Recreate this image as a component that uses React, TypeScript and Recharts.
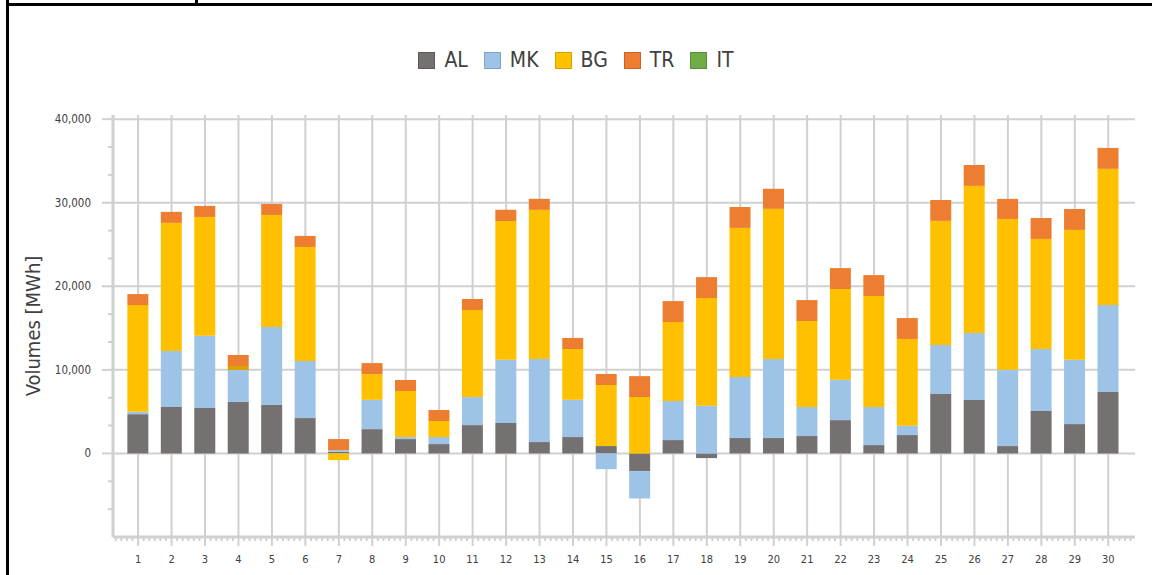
import { Bar, BarChart, CartesianGrid, Cell, Legend, XAxis, YAxis } from "recharts";

const days = [1, 2, 3, 4, 5, 6, 7, 8, 9, 10, 11, 12, 13, 14, 15, 16, 17, 18, 19, 20, 21, 22, 23, 24, 25, 26, 27, 28, 29, 30];

const AL = [4700, 5550, 5430, 6150, 5790, 4230, 200, 2910, 1720, 1120, 3390, 3630, 1360, 1960, 880, -2120, 1600, -560, 1840, 1840, 2080, 3990, 1000, 2200, 7110, 6390, 880, 5070, 3510, 7350];
const MK = [280, 6710, 8660, 3830, 9340, 6830, 200, 3510, 240, 840, 3350, 7590, 9940, 4470, -1880, -3270, 4670, 5710, 7310, 9460, 3470, 4830, 4550, 1120, 5870, 8020, 9140, 7430, 7710, 10420];
const BG = [12770, 15330, 14210, 480, 13410, 13650, -800, 3070, 5510, 1920, 10420, 16610, 17850, 6070, 7310, 6750, 9460, 12890, 17840, 17970, 10300, 10860, 13290, 10380, 14850, 17610, 18040, 13170, 15530, 16290];
const TR = [1320, 1320, 1320, 1320, 1320, 1320, 1320, 1320, 1320, 1320, 1320, 1320, 1320, 1320, 1320, 2500, 2500, 2500, 2500, 2400, 2500, 2500, 2500, 2500, 2500, 2500, 2400, 2500, 2500, 2500];
const IT = [0, 0, 0, 0, 0, 0, 0, 0, 0, 0, 0, 0, 0, 0, 0, 0, 0, 0, 0, 0, 0, 0, 0, 0, 0, 0, 0, 0, 0, 0];

const seriesOrder = ["AL", "MK", "BG", "TR", "IT"];
const yMajorTicks = [0, 10000, 20000, 30000, 40000];
const yMinorTicks = [-6667, -3333, 3333, 6667, 13333, 16667, 23333, 26667, 33333, 36667];

const data = days.map((day, i) => ({ day, AL: AL[i], MK: MK[i], BG: BG[i], TR: TR[i], IT: IT[i] }));

// six minor divisions per day on the x axis
const xTicks: number[] = [];
for (let k = 2; k <= 184; k++) xTicks.push(k / 6);

const FONT = "'DejaVu Sans Condensed', 'DejaVu Sans', sans-serif";
const GRID = "#D0D0D0";
const TEXT = "#404040";

const COLORS: Record<string, string> = {
  AL: "#767171",
  MK: "#9DC3E6",
  BG: "#FFC000",
  TR: "#ED7D31",
  IT: "#70AD47",
};
const BORDERS: Record<string, string> = {
  AL: "#5E5A5A",
  MK: "#7FA3C4",
  BG: "#D6A200",
  TR: "#C4642A",
  IT: "#5A8E3A",
};

function YTick({ x, y, payload }: any) {
  const major = yMajorTicks.includes(payload.value);
  return (
    <g>
      <line x1={x - (major ? 11 : 5)} x2={x} y1={y} y2={y} stroke={GRID} strokeWidth={2} />
      {major && (
        <text x={x - 22} y={y} textAnchor="end" dominantBaseline="central" fill={TEXT} fontSize={11.5} fontFamily={FONT}>
          {payload.value.toLocaleString("en-US")}
        </text>
      )}
    </g>
  );
}

function XTick({ x, y, payload }: any) {
  const major = Number.isInteger(payload.value);
  return (
    <g>
      <line x1={x} x2={x} y1={y} y2={y + (major ? 9 : 4)} stroke={GRID} strokeWidth={2} />
      {major && (
        <text x={x} y={y + 22} textAnchor="middle" dominantBaseline="central" fill={TEXT} fontSize={11} fontFamily={FONT}>
          {payload.value}
        </text>
      )}
    </g>
  );
}

function LegendContent({ payload }: any) {
  const items = [...(payload || [])].sort(
    (a: any, b: any) => seriesOrder.indexOf(a.value) - seriesOrder.indexOf(b.value)
  );
  return (
    <div style={{ display: "flex", justifyContent: "center", alignItems: "center", fontFamily: FONT, fontSize: 21, color: TEXT }}>
      {items.map((p: any) => (
        <div key={p.value} style={{ display: "flex", alignItems: "center", margin: "0 8px" }}>
          <span
            style={{
              display: "inline-block",
              width: 15,
              height: 15,
              background: COLORS[p.value],
              border: `1px solid ${BORDERS[p.value]}`,
              marginRight: 9,
            }}
          />
          <span>{p.value}</span>
        </div>
      ))}
    </div>
  );
}

export default function App() {
  return (
    <div style={{ position: "absolute", left: 0, top: 0, width: 1152, height: 575, background: "#fff", overflow: "hidden" }}>
      {/* frame lines of the surrounding sheet */}
      <div style={{ position: "absolute", left: 6, top: 3, width: 1146, height: 3, background: "#000" }} />
      <div style={{ position: "absolute", left: 6, top: 0, width: 3, height: 575, background: "#000" }} />
      <div style={{ position: "absolute", left: 195, top: 0, width: 3, height: 4, background: "#000" }} />

      <div style={{ position: "absolute", left: 0, top: 0 }}>
        <BarChart
          width={1152}
          height={575}
          data={data}
          stackOffset="sign"
          margin={{ top: 115, right: 17, bottom: 0, left: 8 }}
        >
          <CartesianGrid stroke={GRID} strokeWidth={2} horizontalValues={yMajorTicks} verticalValues={days} />
          <XAxis
            dataKey="day"
            type="number"
            domain={[0.25, 30.8]}
            ticks={xTicks}
            interval={0}
            height={38}
            tickLine={false}
            tickSize={0}
            tickMargin={0}
            tick={<XTick />}
            axisLine={{ stroke: GRID, strokeWidth: 3 }}
          />
          <XAxis
            xAxisId="top"
            orientation="top"
            dataKey="day"
            type="number"
            domain={[0.25, 30.8]}
            height={0}
            tick={false}
            tickLine={false}
            axisLine={{ stroke: GRID, strokeWidth: 3 }}
          />
          <YAxis
            type="number"
            domain={[-10000, 40500]}
            ticks={[...yMinorTicks, ...yMajorTicks].sort((a, b) => a - b)}
            interval={0}
            width={105}
            tickLine={false}
            tickSize={0}
            tickMargin={0}
            tick={<YTick />}
            axisLine={{ stroke: GRID, strokeWidth: 3 }}
            label={{
              value: "Volumes [MWh]",
              angle: -90,
              position: "insideLeft",
              offset: 25,
              style: { textAnchor: "middle", fill: TEXT, fontSize: 20, fontFamily: FONT },
            }}
          />
          <YAxis
            yAxisId="right"
            orientation="right"
            type="number"
            domain={[-10000, 40500]}
            width={0}
            tick={false}
            tickLine={false}
            axisLine={{ stroke: GRID, strokeWidth: 3 }}
          />
          <Legend
            layout="horizontal"
            verticalAlign="middle"
            align="center"
            wrapperStyle={{ top: 48, left: 0, width: 1152 }}
            content={<LegendContent />}
          />
          <Bar dataKey="AL" name="AL" stackId="a" fill={COLORS.AL} barSize={21} isAnimationActive={false} />
          <Bar dataKey="MK" name="MK" stackId="a" fill={COLORS.MK} barSize={21} isAnimationActive={false} />
          <Bar dataKey="BG" name="BG" stackId="a" fill={COLORS.BG} barSize={21} isAnimationActive={false}>
            {data.map((d) => (
              <Cell key={d.day} fill={d.day === 4 ? "#D9A300" : COLORS.BG} />
            ))}
          </Bar>
          <Bar dataKey="TR" name="TR" stackId="a" fill={COLORS.TR} barSize={21} isAnimationActive={false} />
          <Bar dataKey="IT" name="IT" stackId="a" fill={COLORS.IT} barSize={21} isAnimationActive={false} />
        </BarChart>
      </div>
    </div>
  );
}
